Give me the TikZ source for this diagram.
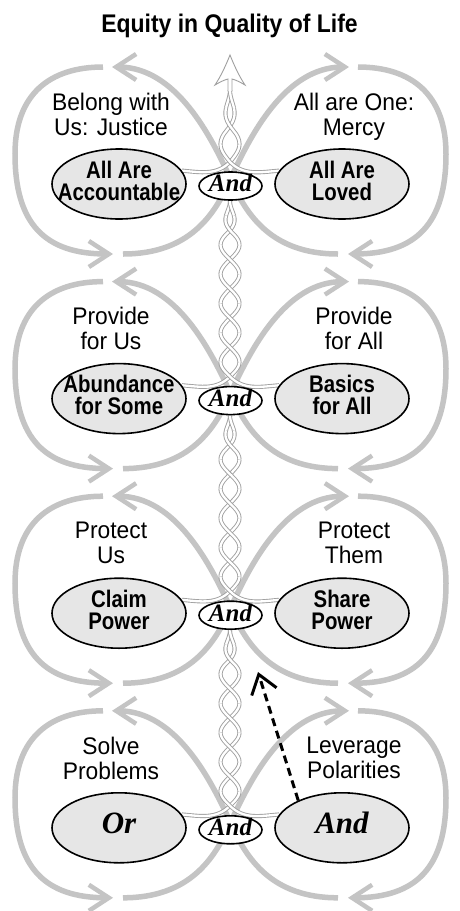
\documentclass[tikz,border=0pt]{standalone}
\usepackage{fontspec}
\setmainfont{Liberation Sans}
\newfontfamily\titlefont{Liberation Sans}[FakeStretch=0.9]
\newfontfamily\labelfont{Liberation Sans}[FakeStretch=0.95]
\newfontfamily\polefont{Liberation Sans}[FakeStretch=0.85]
\newfontfamily\andfont{Liberation Serif}
\usetikzlibrary{arrows.meta,shapes.geometric}
\pgfdeclarelayer{back}
\pgfsetlayers{back,main}
\definecolor{loopgray}{RGB}{196,196,196}
\definecolor{strandgray}{RGB}{160,160,160}
\definecolor{polefill}{RGB}{230,230,230}
\tikzstyle{loopline}=[draw=loopgray,line width=5.5pt,-{Straight Barb[length=20pt,width=26pt,line width=4.5pt]}]
\tikzstyle{strand}=[draw=strandgray,line width=0.9pt,double=white,double distance=2.3pt]
\tikzstyle{pole}=[ellipse,draw,line width=1.6pt,fill=polefill,minimum width=134pt,minimum height=70pt,inner xsep=-15pt,inner ysep=0pt,align=center,text depth=7pt,font=\polefont\bfseries\fontsize{24}{22}\selectfont]
\tikzstyle{bigpole}=[pole,text depth=10pt,font=\andfont\bfseries\itshape\fontsize{31}{31}\selectfont]
\tikzstyle{andnode}=[ellipse,draw,line width=1.6pt,fill=white,minimum width=63pt,minimum height=28pt,inner xsep=-2pt,inner ysep=-6pt,text depth=5.5pt,font=\andfont\bfseries\itshape\fontsize{25}{25}\selectfont]
\tikzstyle{sidetext}=[align=center,anchor=north,inner sep=0pt,font=\labelfont\fontsize{24}{25}\selectfont]
\tikzstyle{dasharrow}=[line width=3pt,dash pattern=on 8pt off 5pt,-{Straight Barb[length=18pt,width=26pt]}]
\def\amp{9.5}
% two strands twisting up from the And of row #4
\newcommand{\twist}[4]{%
  \pgfmathsetmacro\hh{(#2-#1)/#3}%
  \pgfmathsetmacro\ta{#1+0.5*\hh}%
  % back pieces
  \draw[strand] (L#4.12) to[out=-5,in=225] (230,#1)
    -- plot[variable=\yy,domain=#1:\ta,samples=8] ({230+\amp*min(1,(#2-\yy)/(1.2*\hh))*sin(180*((\yy-#1)/\hh))},\yy);
  \foreach \n in {1,...,#3}{
    \pgfmathsetmacro\ya{#1+(\n-0.5)*\hh}
    \pgfmathsetmacro\yb{min(#1+(\n+0.5)*\hh,#2)}
    \pgfmathsetmacro\sg{-cos(180*(\n+1))}
    \draw[strand] plot[variable=\yy,domain=\ya:\yb,samples=12] ({230+(\sg)*\amp*min(1,(#2-\yy)/(1.2*\hh))*sin(180*((\yy-#1)/\hh))},\yy);
  }
  % front pieces
  \draw[strand] (R#4.168) to[out=185,in=-45] (230,#1)
    -- plot[variable=\yy,domain=#1:\ta,samples=8] ({230-\amp*min(1,(#2-\yy)/(1.2*\hh))*sin(180*((\yy-#1)/\hh))},\yy);
  \foreach \n in {1,...,#3}{
    \pgfmathsetmacro\ya{#1+(\n-0.5)*\hh}
    \pgfmathsetmacro\yb{min(#1+(\n+0.5)*\hh,#2)}
    \pgfmathsetmacro\sg{cos(180*(\n+1))}
    \draw[strand] plot[variable=\yy,domain=\ya:\yb,samples=12] ({230+(\sg)*\amp*min(1,(#2-\yy)/(1.2*\hh))*sin(180*((\yy-#1)/\hh))},\yy);
  }
}

\begin{document}
\begin{tikzpicture}[x=1pt,y=1pt]
\useasboundingbox (0,0) rectangle (459,-911);

\node[font=\titlefont\bfseries\fontsize{25.5}{26}\selectfont,anchor=base] (title) at (229.5,-32) {Equity in Quality of Life};

% row 1
\node[pole] (L1) at (119,-184) {All Are\\Accountable};
\node[pole] (R1) at (342,-184) {All Are\\Loved};
\node[andnode] (A1) at (230.5,-186) {And};
\node[sidetext] (tl1) at (111,-92.7) {Belong with\\Us: Justice};
\node[sidetext] (tr1) at (354,-92.7) {All are One:\\Mercy};

% row 2
\node[pole] (L2) at (119,-398.6) {Abundance\\for Some};
\node[pole] (R2) at (342,-398.6) {Basics\\for All};
\node[andnode] (A2) at (230.5,-400.6) {And};
\node[sidetext] (tl2) at (111,-307.3) {Provide\\for Us};
\node[sidetext] (tr2) at (354,-307.3) {Provide\\for All};

% row 3
\node[pole] (L3) at (119,-613.2) {Claim\\Power};
\node[pole] (R3) at (342,-613.2) {Share\\Power};
\node[andnode] (A3) at (230.5,-615.2) {And};
\node[sidetext] (tl3) at (111,-521.9) {Protect\\Us};
\node[sidetext] (tr3) at (354,-521.9) {Protect\\Them};

% row 4
\node[bigpole] (L4) at (119,-827.8) {Or};
\node[bigpole] (R4) at (342,-827.8) {And};
\node[andnode] (A4) at (230.5,-829.8) {And};
\node[sidetext] (tl4) at (111,-736.5) {Solve\\Problems};
\node[sidetext] (tr4) at (354,-736.5) {Leverage\\Polarities};

\begin{pgfonlayer}{back}
\fill[white] (0,0) rectangle (459,-911);
\foreach \c/\tip/\nh/\k in {184/94/2/1, 398.6/197.6/6/2, 613.2/197.6/6/3, 827.8/197.6/6/4}{
  \begin{scope}[shift={(0,-\c)}]
    % figure eight, left half and its mirror
    \foreach \xs/\xo in {1/0, -1/461}{
      \begin{scope}[xshift=\xo pt, xscale=\xs]
        \draw[loopline] (103,117) .. controls (50,117) and (15,90) .. (15,30) .. controls (15,-40) and (45,-70) .. (113,-70);
        \draw[loopline] (123,-70) .. controls (190,-70) and (215,-30) .. (230,4) .. controls (250,48) and (285,117) .. (349,117);
      \end{scope}
    }
    \twist{22}{\tip}{\nh}{\k}
  \end{scope}
}
% head of the top strand
\draw[strandgray,line width=0.9pt,fill=white] (228,-91) -- (228,-79) .. controls (224,-80) and (220,-82) .. (215,-85) .. controls (221,-76) and (226,-65) .. (230,-55) .. controls (234,-65) and (239,-76) .. (245,-85) .. controls (240,-82) and (236,-80) .. (232,-79) -- (232,-91);
\end{pgfonlayer}

\coordinate (push) at (258,-672);
\draw[dasharrow] (R4.148) -- (push);
\end{tikzpicture}
\end{document}
